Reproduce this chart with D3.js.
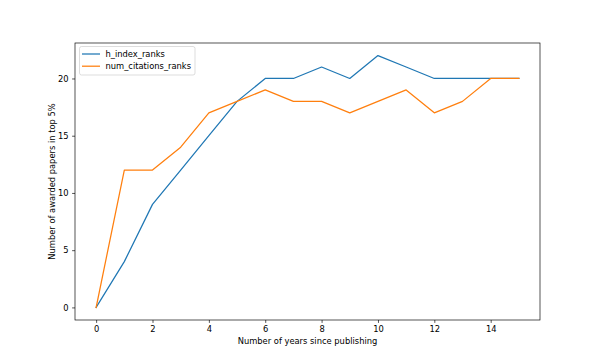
<!DOCTYPE html>
<html><head><meta charset="utf-8">
<script src="https://cdn.jsdelivr.net/npm/d3@7"></script>
<style>body{margin:0;background:#fff}svg text{font-family:"DejaVu Sans",sans-serif;}</style>
</head><body>
<svg id="c" width="600" height="360"></svg>
<script>
const years = [0,1,2,3,4,5,6,7,8,9,10,11,12,13,14,15];
const hIndexRanks = [0,4,9,12,15,18,20,20,21,20,22,21,20,20,20,20];
const numCitationsRanks = [0,12,12,14,17,18,19,18,18,17,18,19,17,18,20,20];
const seriesNames = ["h_index_ranks","num_citations_ranks"];
const colors = ["#1f77b4","#ff7f0e"];
const xTicks = [0,2,4,6,8,10,12,14];
const yTicks = [0,5,10,15,20];

const svg = d3.select("#c");
const L=75, R=540, T=43, B=320;
const x = d3.scaleLinear().domain([-0.75,15.75]).range([L,R]);
const y = d3.scaleLinear().domain([-1.1,23.1]).range([B,T]);
const fs = 8.33;

// lines
const series = [hIndexRanks, numCitationsRanks];
series.forEach((vals,i)=>{
  const line = d3.line().x((d,j)=>x(years[j])).y(d=>y(d));
  svg.append("path").datum(vals).attr("d",line)
    .attr("fill","none").attr("stroke",colors[i]).attr("stroke-width",1.25)
    .attr("stroke-linejoin","round").attr("stroke-linecap","square");
});

// axes
const xa = svg.append("g").attr("transform",`translate(0,${B})`)
  .call(d3.axisBottom(x).tickValues(xTicks).tickSize(2.9).tickPadding(3.5).tickFormat(d3.format("d")));
const ya = svg.append("g").attr("transform",`translate(${L},0)`)
  .call(d3.axisLeft(y).tickValues(yTicks).tickSize(2.9).tickPadding(3.5).tickFormat(d3.format("d")));
[xa,ya].forEach(g=>{
  g.select(".domain").remove();
  g.selectAll("line").attr("stroke","#000").attr("stroke-width",0.67);
  g.selectAll("text").attr("font-size",fs).attr("fill","#000").attr("font-family","DejaVu Sans");
});
// spines
svg.append("rect").attr("x",L).attr("y",T).attr("width",R-L).attr("height",B-T)
  .attr("fill","none").attr("stroke","#000").attr("stroke-width",0.67);

// labels
svg.append("text").attr("x",(L+R)/2).attr("y",344).attr("text-anchor","middle")
  .attr("font-size",fs).text("Number of years since publishing");
svg.append("text").attr("transform",`translate(55,${(T+B)/2}) rotate(-90)`).attr("text-anchor","middle")
  .attr("font-size",fs).text("Number of awarded papers in top 5%");

// legend
const lg = svg.append("g");
lg.append("rect").attr("x",79.5).attr("y",46.5).attr("width",115.5).attr("height",28.5).attr("rx",2)
  .attr("fill","#fff").attr("fill-opacity",0.8).attr("stroke","#ccc").attr("stroke-width",0.67);
seriesNames.forEach((n,i)=>{
  const yy = 54 + i*12.2;
  lg.append("line").attr("x1",82).attr("x2",100).attr("y1",yy).attr("y2",yy)
    .attr("stroke",colors[i]).attr("stroke-width",1.25);
  lg.append("text").attr("x",105.5).attr("y",yy).attr("dy","0.35em").attr("font-size",fs).text(n);
});
</script>
</body></html>
